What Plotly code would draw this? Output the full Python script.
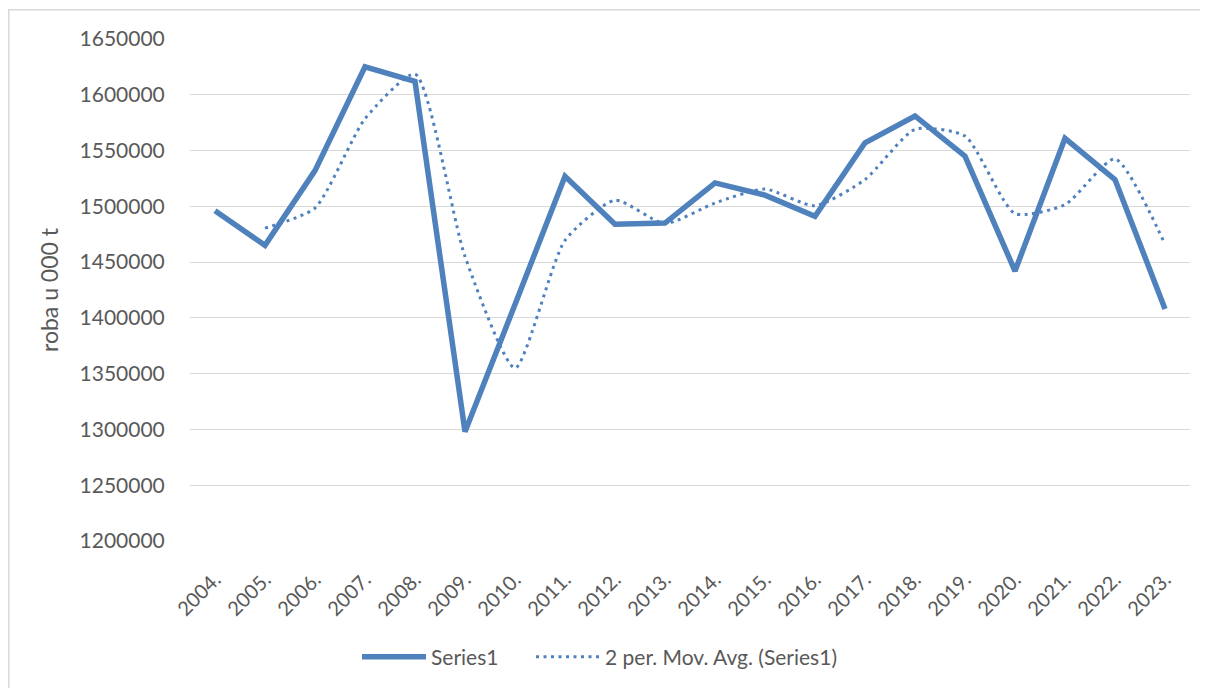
import plotly.graph_objects as go

years = ["2004.", "2005.", "2006.", "2007.", "2008.", "2009.", "2010.", "2011.", "2012.", "2013.",
         "2014.", "2015.", "2016.", "2017.", "2018.", "2019.", "2020.", "2021.", "2022.", "2023."]
series1 = [1496000, 1465000, 1532000, 1625000, 1612000, 1298000, 1412000, 1527000, 1484000, 1485000,
           1521000, 1510000, 1491000, 1557000, 1581000, 1545000, 1442000, 1561000, 1524000, 1408000]
mov_avg_years = years[1:]
mov_avg = [1480500, 1498500, 1578500, 1618500, 1455000, 1355000, 1469500, 1505500, 1484500,
           1503000, 1515500, 1500500, 1524000, 1569000, 1563000, 1493500, 1501500, 1542500, 1466000]
y_ticks = [1200000, 1250000, 1300000, 1350000, 1400000, 1450000, 1500000, 1550000, 1600000, 1650000]

BLUE = "#4F81BD"
FONT = "Lato, 'Open Sans', sans-serif"
TXT = "#595959"

fig = go.Figure()
fig.add_trace(go.Scatter(x=years, y=series1, mode="lines", name="Series1",
                         line=dict(color=BLUE, width=5.5), legend="legend"))
fig.add_trace(go.Scatter(x=mov_avg_years, y=mov_avg, mode="lines",
                         name="2 per. Mov. Avg. (Series1)", legend="legend2",
                         line=dict(color=BLUE, width=3, dash="3px,4.5px", shape="spline", smoothing=0.6)))

OFF = 8  # default page body margin
W, H = 1200, 680
L, T = 190 - OFF, 39 - OFF
pw, ph = 1000, 503
R = W - L - pw
B = H - T - ph

def px_x(p):
    return (p - OFF - L) / pw

def px_y(p):
    return (T + ph - (p - OFF)) / ph

fig.add_shape(type="rect", xref="paper", yref="paper",
              x0=px_x(8.75), x1=px_x(1240), y0=px_y(720), y1=px_y(9.75),
              line=dict(color="#D9D9D9", width=1.5), fillcolor="rgba(0,0,0,0)", layer="below")

leg_common = dict(orientation="h", xanchor="left", y=px_y(657), yanchor="middle",
                  font=dict(family=FONT, size=21, color=TXT), itemwidth=64,
                  bgcolor="rgba(0,0,0,0)")

fig.update_layout(
    width=W, height=H,
    margin=dict(l=L, r=R, t=T, b=B),
    plot_bgcolor="white", paper_bgcolor="white",
    font=dict(family=FONT, size=20, color=TXT),
    showlegend=True,
    legend=dict(x=px_x(362 - 5), **leg_common),
    legend2=dict(x=px_x(536 - 5), **leg_common),
    xaxis=dict(type="category", tickangle=-45, showgrid=False, showline=False,
               ticks="outside", ticklen=18, tickcolor="rgba(0,0,0,0)",
               tickfont=dict(family=FONT, size=20, color=TXT), range=[-0.5, 19.5]),
    yaxis=dict(range=[1200000, 1650000], tickvals=y_ticks, tickformat="d",
               showgrid=True, gridcolor="#D9D9D9", gridwidth=1.3, zeroline=False,
               showline=False, ticks="outside", ticklen=20, tickcolor="rgba(0,0,0,0)",
               tickfont=dict(family=FONT, size=21, color=TXT),
               title=dict(text="roba u 000 t", font=dict(family=FONT, size=23, color=TXT), standoff=14)),
)

fig.write_html("out.html")
